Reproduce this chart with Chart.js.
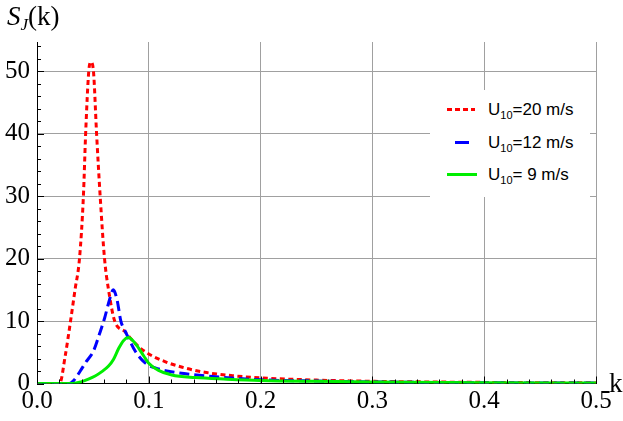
<!DOCTYPE html>
<html>
<head>
<meta charset="utf-8">
<script src="https://cdn.jsdelivr.net/npm/chart.js@4.4.1/dist/chart.umd.min.js"></script>
<style>
  body { margin: 0; background: #fff; }
  #wrap { position: relative; width: 623px; height: 421px; }
  #chart { position: absolute; left: 0; top: 0; }
  .serif { position: absolute; font-family: "Liberation Serif", "DejaVu Serif", serif; font-size: 27px; line-height: 30px; color: #000; white-space: nowrap; }
  #legend { position: absolute; left: 430px; top: 90px; width: 160px; height: 107px; background: #fff; }
  .row { position: absolute; left: 0; width: 160px; height: 20px; font-family: "Liberation Sans", Arial, sans-serif; font-size: 17px; line-height: 20px; color: #000; }
  .row .txt { position: absolute; left: 58px; top: 0; white-space: nowrap; }
  .row .txt span { font-size: 11px; vertical-align: -4px; }
  .row .smp { position: absolute; top: 8px; height: 3px; }
</style>
</head>
<body>
<div id="wrap">
  <canvas id="chart" width="623" height="421"></canvas>
  <div class="serif" style="left:7px; top:1px;"><i>S</i><i style="font-size:17px; vertical-align:-5px;">J</i>(k)</div>
  <div class="serif" style="left:609px; top:368px;">k</div>
  <div id="legend"></div>
</div>
<script>
// wavenumber k and spectrum S_J(k) for each wind speed
const kU20 = [0, 0.0202, 0.0253, 0.030, 0.034, 0.038, 0.0415, 0.0435, 0.0463, 0.0482, 0.0505, 0.0533, 0.0565, 0.0604, 0.064, 0.0695, 0.0788, 0.0848, 0.0922, 0.1012, 0.116, 0.13, 0.15, 0.175, 0.2, 0.25, 0.3, 0.35, 0.4, 0.45, 0.5];
const sU20 = [0, 0, 4.5, 10, 15, 20, 30, 40, 50, 51.5, 50, 40, 30, 20, 15, 10, 8.3, 7.0, 5.7, 4.6, 3.4, 2.6, 1.8, 1.25, 0.9, 0.55, 0.35, 0.25, 0.18, 0.13, 0.1];
const kU12 = [0, 0.029, 0.033, 0.0387, 0.044, 0.0505, 0.056, 0.0605, 0.065, 0.0682, 0.0715, 0.075, 0.0785, 0.0818, 0.0878, 0.0967, 0.1057, 0.12, 0.15, 0.2, 0.25, 0.3, 0.4, 0.5];
const sU12 = [0, 0, 0.5, 2, 3.5, 5.2, 8, 10.5, 13.5, 15, 13.5, 10, 8.5, 7.3, 5.2, 3.3, 2.5, 1.9, 1.25, 0.6, 0.4, 0.25, 0.12, 0.07];
const kU9 = [0, 0.032, 0.04, 0.046, 0.052, 0.058, 0.064, 0.0685, 0.073, 0.0775, 0.0818, 0.086, 0.0908, 0.0955, 0.0997, 0.1087, 0.1206, 0.1414, 0.17, 0.2, 0.25, 0.3, 0.4, 0.5];
const sU9 = [0, 0, 0.3, 0.7, 1.2, 1.9, 2.8, 3.9, 5.6, 6.9, 7.35, 6.8, 5.7, 4.4, 3.3, 2.1, 1.35, 0.95, 0.7, 0.5, 0.35, 0.25, 0.12, 0.07];

const xTicks = [0, 0.1, 0.2, 0.3, 0.4, 0.5];
const yTicks = [0, 10, 20, 30, 40, 50];
const legendLabels = ['U<span>10</span>=20 m/s', 'U<span>10</span>=12 m/s', 'U<span>10</span>= 9 m/s'];

function pts(ks, ss) {
  return ks.map((k, i) => ({ x: k, y: ss[i] }));
}

// inward minor/major ticks like the original frame
const innerTicks = {
  id: 'innerTicks',
  afterDatasetsDraw(chart) {
    const { ctx, scales: { x, y } } = chart;
    ctx.save();
    ctx.strokeStyle = '#000';
    ctx.lineWidth = 1;
    ctx.beginPath();
    for (let i = 0; i <= 27; i++) {
      const v = i * 2;
      const py = Math.round(y.getPixelForValue(v)) + 0.5;
      const len = v % 10 === 0 ? 7 : 4;
      ctx.moveTo(x.left, py);
      ctx.lineTo(x.left + len, py);
    }
    for (let i = 0; i <= 25; i++) {
      const v = i * 0.02;
      const px = Math.round(x.getPixelForValue(v)) + 0.5;
      const len = i % 5 === 0 ? 7 : 4;
      ctx.moveTo(px, y.bottom);
      ctx.lineTo(px, y.bottom - len);
    }
    ctx.stroke();
    ctx.restore();
  }
};

new Chart(document.getElementById('chart'), {
  type: 'line',
  data: {
    datasets: [
      { label: 'U10=20 m/s', data: pts(kU20, sU20), borderColor: '#ff0000', borderWidth: 3, borderDash: [5, 3.5], order: 2 },
      { label: 'U10=12 m/s', data: pts(kU12, sU12), borderColor: '#0000ff', borderWidth: 3, borderDash: [10, 5], order: 1 },
      { label: 'U10= 9 m/s', data: pts(kU9, sU9), borderColor: '#00ee00', borderWidth: 3, order: 0 }
    ]
  },
  options: {
    responsive: false,
    animation: false,
    elements: { point: { radius: 0 }, line: { cubicInterpolationMode: 'monotone', fill: false } },
    layout: { padding: { top: 42, right: 27, left: 0, bottom: 0 } },
    plugins: { legend: { display: false }, tooltip: { enabled: false } },
    scales: {
      x: {
        type: 'linear', min: 0, max: 0.5,
        afterBuildTicks: s => { s.ticks = xTicks.map(v => ({ value: v })); },
        afterFit: s => { s.height = 37.5; },
        grid: { color: c => c.tick && c.tick.value === 0 ? 'rgba(0,0,0,0)' : '#a0a0a0', drawTicks: false },
        border: { color: '#000', width: 1 },
        ticks: { font: { family: 'Liberation Serif', size: 25 }, color: '#000', padding: 3, maxRotation: 0, callback: v => v.toFixed(1) }
      },
      y: {
        type: 'linear', min: 0, max: 54.7,
        afterBuildTicks: s => { s.ticks = yTicks.map(v => ({ value: v })); },
        afterFit: s => { s.width = 37; },
        grid: { color: c => c.tick && c.tick.value === 0 ? 'rgba(0,0,0,0)' : '#a0a0a0', drawTicks: false },
        border: { color: '#000', width: 1 },
        ticks: { font: { family: 'Liberation Serif', size: 25 }, color: '#000', padding: 7, callback: v => String(v) }
      }
    }
  },
  plugins: [innerTicks]
});

// legend with subscripts, drawn over the plot like the original
const samples = [
  'left:17px; width:28px; background:repeating-linear-gradient(90deg,#ff0000 0 5px,transparent 5px 8px);',
  'left:25px; width:14px; background:#0000ff;',
  'left:17px; width:30px; background:#00ee00;'
];
const rowTops = [10, 42.6, 74.6];
document.getElementById('legend').innerHTML = legendLabels.map((t, i) =>
  `<div class="row" style="top:${rowTops[i]}px"><div class="smp" style="${samples[i]}"></div><div class="txt">${t}</div></div>`
).join('');
</script>
</body>
</html>
